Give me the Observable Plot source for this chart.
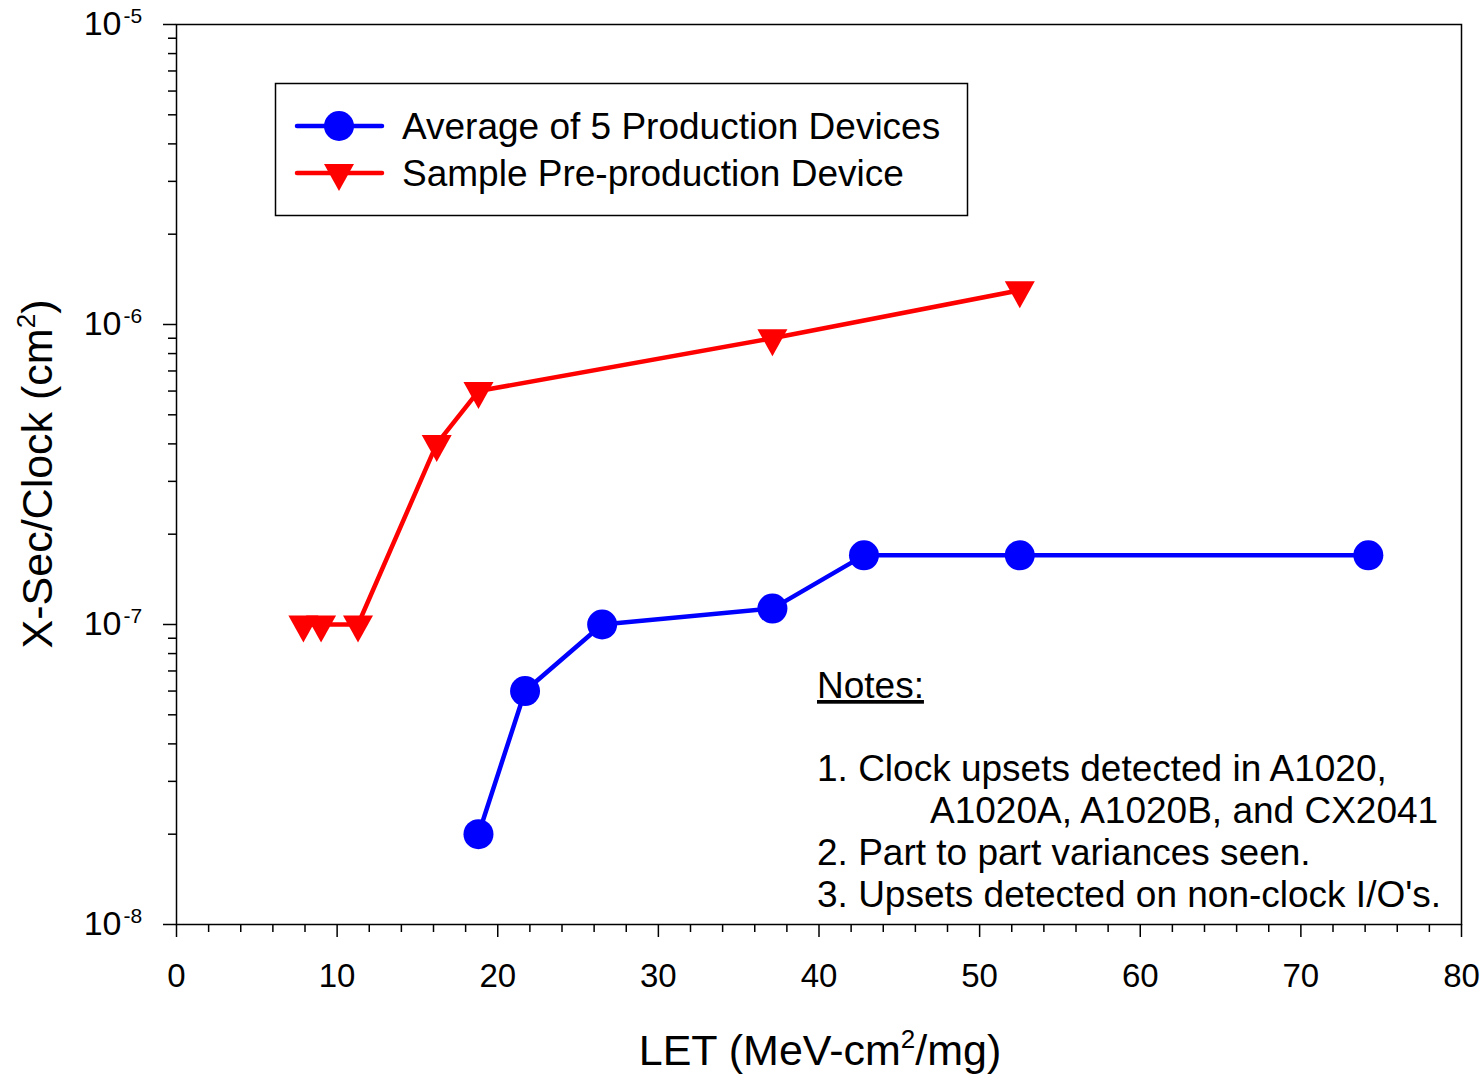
<!DOCTYPE html>
<html>
<head>
<meta charset="utf-8">
<script src="https://cdn.jsdelivr.net/npm/d3@7"></script>
<script src="https://cdn.jsdelivr.net/npm/@observablehq/plot@0.6"></script>
<style>
  html, body { margin: 0; padding: 0; background: white; }
  svg { display: block; }
</style>
</head>
<body>
<div id="chart"></div>
<script>
// ---- Data ----
const seriesNames = ["Average of 5 Production Devices", "Sample Pre-production Device"];
const prodLET  = [18.8, 21.7, 26.5, 37.1, 42.8, 52.5, 74.2];
const prodXsec = [2.0e-8, 6.0e-8, 1.0e-7, 1.13e-7, 1.7e-7, 1.7e-7, 1.7e-7];
const preLET   = [7.9, 9.0, 11.3, 16.2, 18.8, 37.1, 52.5];
const preXsec  = [1.0e-7, 1.0e-7, 1.0e-7, 4.0e-7, 6.0e-7, 9.0e-7, 1.3e-6];

const xMajorTicks = [0, 10, 20, 30, 40, 50, 60, 70, 80];
const xMinorTicks = d3.range(0, 81, 2).filter(v => v % 10 !== 0);
const yMajorTicks = [1e-8, 1e-7, 1e-6, 1e-5];
const yMinorTicks = [1e-8, 1e-7, 1e-6].flatMap(b => [2,3,4,5,6,7,8,9].map(m => m * b));

const notesTitle = "Notes:";
const notesLines = [
  "1. Clock upsets detected in A1020,",
  "A1020A, A1020B, and CX2041",
  "2. Part to part variances seen.",
  "3. Upsets detected on non-clock I/O's."
];

const BLUE = "#0000ff", RED = "#ff0000";
const FONT = "'Liberation Sans', Arial, Helvetica, sans-serif";

const prod = prodLET.map((x, i) => ({x, y: prodXsec[i]}));
const pre  = preLET.map((x, i) => ({x, y: preXsec[i]}));

// downward triangle symbol, centroid at origin
const triDown = {
  draw(context, size) {
    const r = Math.sqrt(size / Math.PI);
    context.moveTo(0, 1.2 * r);
    context.lineTo(-r, -0.6 * r);
    context.lineTo(r, -0.6 * r);
    context.closePath();
  }
};

const svg = Plot.plot({
  width: 1484,
  height: 1077,
  marginLeft: 176,
  marginRight: 23,
  marginTop: 24,
  marginBottom: 153,
  style: {background: "white", fontFamily: FONT, color: "black", overflow: "visible"},
  x: {domain: [0, 80]},
  y: {type: "log", domain: [1e-8, 1e-5]},
  marks: [
    Plot.frame({stroke: "black", strokeWidth: 1.5}),
    Plot.axisX(xMinorTicks, {tickSize: 8, tickFormat: () => "", strokeWidth: 1.5, label: null}),
    Plot.axisX(xMajorTicks, {tickSize: 13, tickPadding: 26, fontSize: 33, strokeWidth: 1.5, label: null, tickFormat: d => String(d)}),
    Plot.axisY(yMinorTicks, {tickSize: 8, tickFormat: () => "", strokeWidth: 1.5, label: null}),
    Plot.axisY(yMajorTicks, {tickSize: 13, tickFormat: () => "", strokeWidth: 1.5, label: null}),
    Plot.text(yMajorTicks, {y: d => d, frameAnchor: "left", text: () => "10", textAnchor: "end", lineAnchor: "middle", dx: -55, fontSize: 34, fill: "black"}),
    Plot.text(yMajorTicks, {y: d => d, frameAnchor: "left", text: d => String(Math.round(Math.log10(d))), textAnchor: "start", lineAnchor: "middle", dx: -53, dy: -8, fontSize: 21, fill: "black"}),
    Plot.line(pre, {x: "x", y: "y", stroke: RED, strokeWidth: 4.5}),
    Plot.dot(pre, {x: "x", y: "y", r: 15, symbol: triDown, fill: RED, stroke: "none"}),
    Plot.line(prod, {x: "x", y: "y", stroke: BLUE, strokeWidth: 4.5}),
    Plot.dot(prod, {x: "x", y: "y", r: 15, fill: BLUE, stroke: "none"})
  ]
});

document.getElementById("chart").appendChild(svg);

// ---- Titles, legend and notes (text elements) ----
const s = d3.select(svg);
const g = s.append("g").attr("font-family", FONT).attr("fill", "black").attr("text-anchor", "start");

// x title
const xt = g.append("text").attr("x", 820).attr("y", 1065).attr("text-anchor", "middle").attr("font-size", 43);
xt.append("tspan").text("LET (MeV-cm");
xt.append("tspan").attr("font-size", 26).attr("dy", -17).text("2");
xt.append("tspan").attr("dy", 17).text("/mg)");

// y title
const yt = g.append("text").attr("transform", "translate(52,474) rotate(-90)").attr("text-anchor", "middle").attr("font-size", 43);
yt.append("tspan").text("X-Sec/Clock (cm");
yt.append("tspan").attr("font-size", 26).attr("dy", -17).text("2");
yt.append("tspan").attr("dy", 17).text(")");

// legend
const lg = g.append("g");
lg.append("rect").attr("x", 275.5).attr("y", 83.5).attr("width", 692).attr("height", 132)
  .attr("fill", "white").attr("stroke", "black").attr("stroke-width", 1.5);
const rows = [
  {name: seriesNames[0], color: BLUE, sym: d3.symbolCircle, cy: 126},
  {name: seriesNames[1], color: RED, sym: triDown, cy: 173}
];
for (const r of rows) {
  lg.append("line").attr("x1", 297).attr("x2", 382).attr("y1", r.cy).attr("y2", r.cy)
    .attr("stroke", r.color).attr("stroke-width", 4.5).attr("stroke-linecap", "round");
  lg.append("path").attr("transform", `translate(339,${r.cy})`)
    .attr("d", d3.symbol(r.sym, 15 * 15 * Math.PI)()).attr("fill", r.color);
  lg.append("text").attr("x", 402).attr("y", r.cy + 13).attr("text-anchor", "start").attr("font-size", 37).text(r.name);
}

// notes
const ng = g.append("g").attr("font-size", 37).attr("text-anchor", "start");
ng.append("text").attr("x", 817).attr("y", 698).attr("text-decoration", "underline").text(notesTitle);
const noteX = [817, 930, 817, 817];
const noteY = [781, 823, 865, 907];
notesLines.forEach((t, i) => {
  ng.append("text").attr("x", noteX[i]).attr("y", noteY[i]).text(t);
});
</script>
</body>
</html>
